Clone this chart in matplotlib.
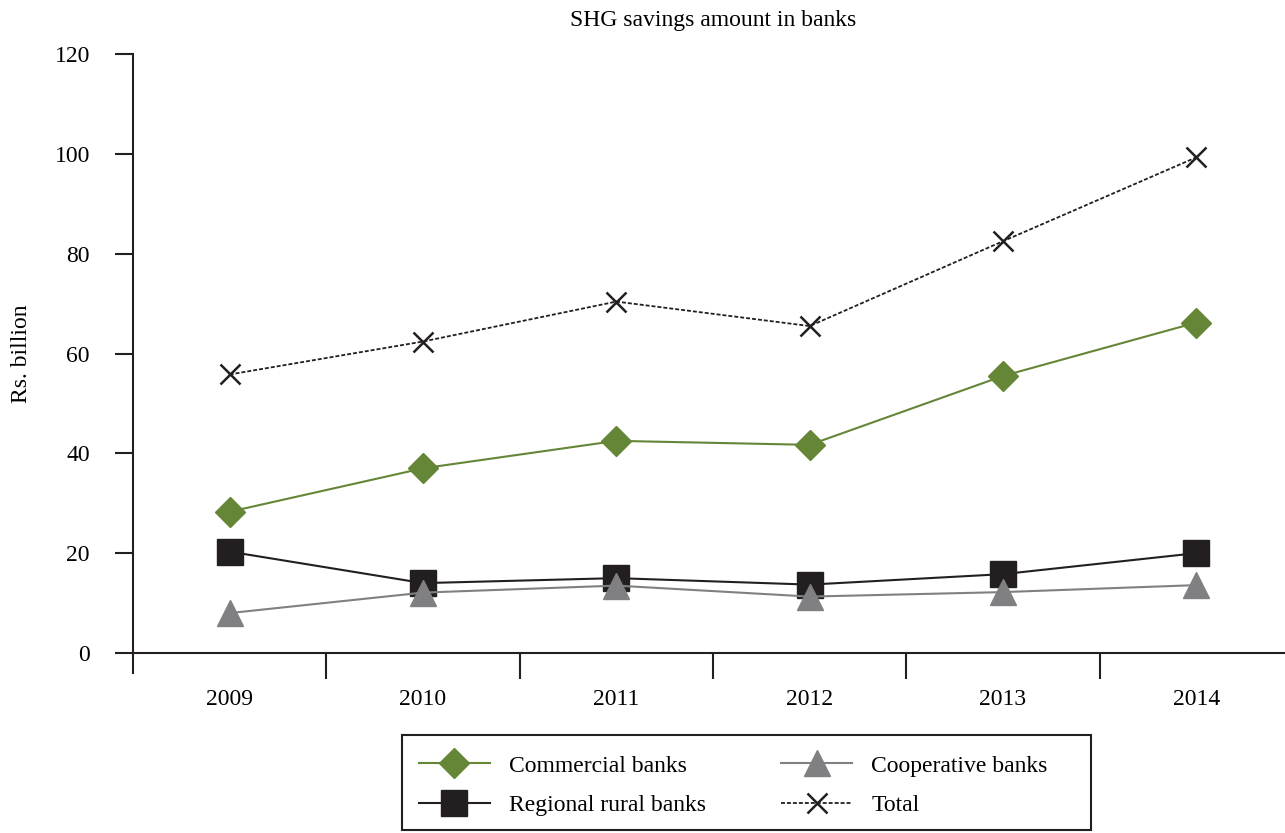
import matplotlib
matplotlib.use("Agg")
import matplotlib.pyplot as plt
from matplotlib.lines import Line2D
from matplotlib.patches import Rectangle

# data (Rs. billion)
years = ["2009", "2010", "2011", "2012", "2013", "2014"]
commercial = [28.3, 37.0, 42.5, 41.7, 55.5, 66.2]
regional = [20.3, 14.0, 15.0, 13.7, 15.8, 20.0]
cooperative = [8.0, 12.1, 13.5, 11.3, 12.2, 13.6]
total = [55.8, 62.4, 70.4, 65.5, 82.5, 99.3]

ink = "#231f20"
green = "#658537"
grey = "#808083"

plt.rcParams["font.family"] = ["Liberation Serif", "DejaVu Serif"]
plt.rcParams["font.size"] = 17

fig = plt.figure(figsize=(12.85, 8.33), dpi=100)
ax = fig.add_axes([133 / 1285, 1 - 653 / 833, 1160 / 1285, 599 / 833])

x = list(range(len(years)))

ax.plot(x, commercial, color=green, lw=1.5, marker="D", ms=15.5,
        mfc=green, mec=green, label="Commercial banks", clip_on=False)
ax.plot(x, regional, color=ink, lw=1.5, marker="s", ms=18.5,
        mfc=ink, mec=ink, label="Regional rural banks", clip_on=False)
ax.plot(x, cooperative, color=grey, lw=1.5, marker="^", ms=19,
        mfc=grey, mec=grey, label="Cooperative banks", clip_on=False)
ax.plot(x, total, color=ink, lw=1.3, dashes=(2.2, 1.1), marker="x", ms=15,
        mew=1.8, mec=ink, label="Total", clip_on=False)

ax.set_xlim(-0.5, 5.5)
ax.set_ylim(0, 120)
ax.set_yticks(range(0, 121, 20))

# years under the bands, short ticks between the bands
ax.set_xticks(x)
ax.set_xticklabels(years)
ax.set_xticks([0.5, 1.5, 2.5, 3.5, 4.5], minor=True)
ax.tick_params(axis="x", which="major", length=0, pad=26)
ax.tick_params(axis="x", which="minor", length=19, width=1.5, color=ink,
               direction="out")
ax.tick_params(axis="y", length=13, width=1.5, color=ink, pad=18)

for side in ["top", "right"]:
    ax.spines[side].set_visible(False)
ax.spines["bottom"].set_color(ink)
ax.spines["bottom"].set_linewidth(1.5)
ax.spines["left"].set_visible(False)
# left axis line runs a little below zero
ax.add_line(Line2D([0, 0], [-0.033, 1], transform=ax.transAxes, color=ink,
                   lw=1.5, clip_on=False))

ax.set_title("SHG savings amount in banks", fontsize=17, pad=20)
ax.set_ylabel("Rs. billion", fontsize=17, labelpad=16)

h, l = ax.get_legend_handles_labels()
leg = fig.legend(h, l,
                 loc="upper left", bbox_to_anchor=(399 / 1285, 1 - 735 / 833),
                 ncol=2, frameon=False,
                 handlelength=3.0, handletextpad=0.8, columnspacing=3.2,
                 labelspacing=0.75, borderpad=0.85, borderaxespad=0,
                 fontsize=17)
# legend box is wider than its content in the original
fig.patches.append(Rectangle((402 / 1285, 1 - 830 / 833), 689 / 1285, 95 / 833,
                             transform=fig.transFigure, fill=False,
                             edgecolor=ink, lw=1.5))

fig.savefig("out.png", dpi=100)
